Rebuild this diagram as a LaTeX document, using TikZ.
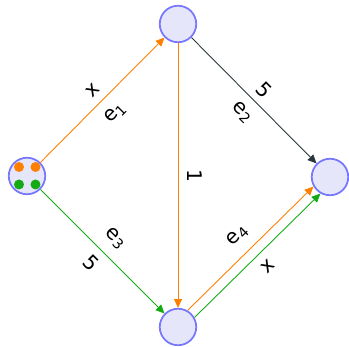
\documentclass[tikz,border=0pt]{standalone}
\usepackage{fontspec}
\setmainfont{DejaVu Sans}
\usetikzlibrary{arrows.meta, positioning}
\definecolor{vertfill}{RGB}{230, 230, 250}
\definecolor{vertdraw}{RGB}{120, 120, 255}
\definecolor{floworange}{RGB}{255, 128, 0}
\definecolor{flowgreen}{RGB}{20, 170, 20}
\definecolor{edgedark}{RGB}{40, 55, 60}

\begin{document}
\begin{tikzpicture}[
    vertex/.style={circle, draw=vertdraw, fill=vertfill, line width=1pt,
                   minimum size=0.73cm, inner sep=0pt},
    flow/.style={-{Triangle[length=5pt, width=4.5pt]}, line width=0.5pt},
    lbl/.style={font=\fontsize{11.5}{13}\selectfont, text=black, sloped, midway,
                inner sep=1pt}
  ]
  \useasboundingbox (0,0) rectangle (6.98,6.94);

  % Vertices
  \node[vertex] (s) at (0.54,3.42) {};
  \node[vertex] (a) at (3.56,6.46) {};
  \node[vertex] (t) at (6.60,3.40) {};
  \node[vertex] (b) at (3.56,0.40) {};

  % Tokens in the source
  \fill[floworange] ([shift={(-0.16,0.18)}]s.center) circle (0.1);
  \fill[floworange] ([shift={(0.17,0.18)}]s.center) circle (0.1);
  \fill[flowgreen] ([shift={(-0.16,-0.17)}]s.center) circle (0.1);
  \fill[flowgreen] ([shift={(0.17,-0.17)}]s.center) circle (0.1);

  % Edges
  \draw[flow, floworange] (s) -- node[lbl, above=3pt] {x}
    node[lbl, below=5pt] {e\textsubscript{1}} (a);
  \draw[flow, edgedark] (a) -- node[lbl, above=3pt] {5}
    node[lbl, below=4pt] {e\textsubscript{2}} (t);
  \draw[flow, floworange] (a) -- node[lbl, above=4pt] {1} (b);
  \draw[flow, flowgreen] (s) -- node[lbl, above=5pt] {e\textsubscript{3}}
    node[lbl, below=4pt] {5} (b);

  % Parallel edges into the sink
  \draw[flow, floworange] (b.60) -- node[lbl, above=5pt] {e\textsubscript{4}} (t.210);
  \draw[flow, flowgreen] (b.30) -- node[lbl, below=4pt] {x} (t.240);
\end{tikzpicture}
\end{document}
